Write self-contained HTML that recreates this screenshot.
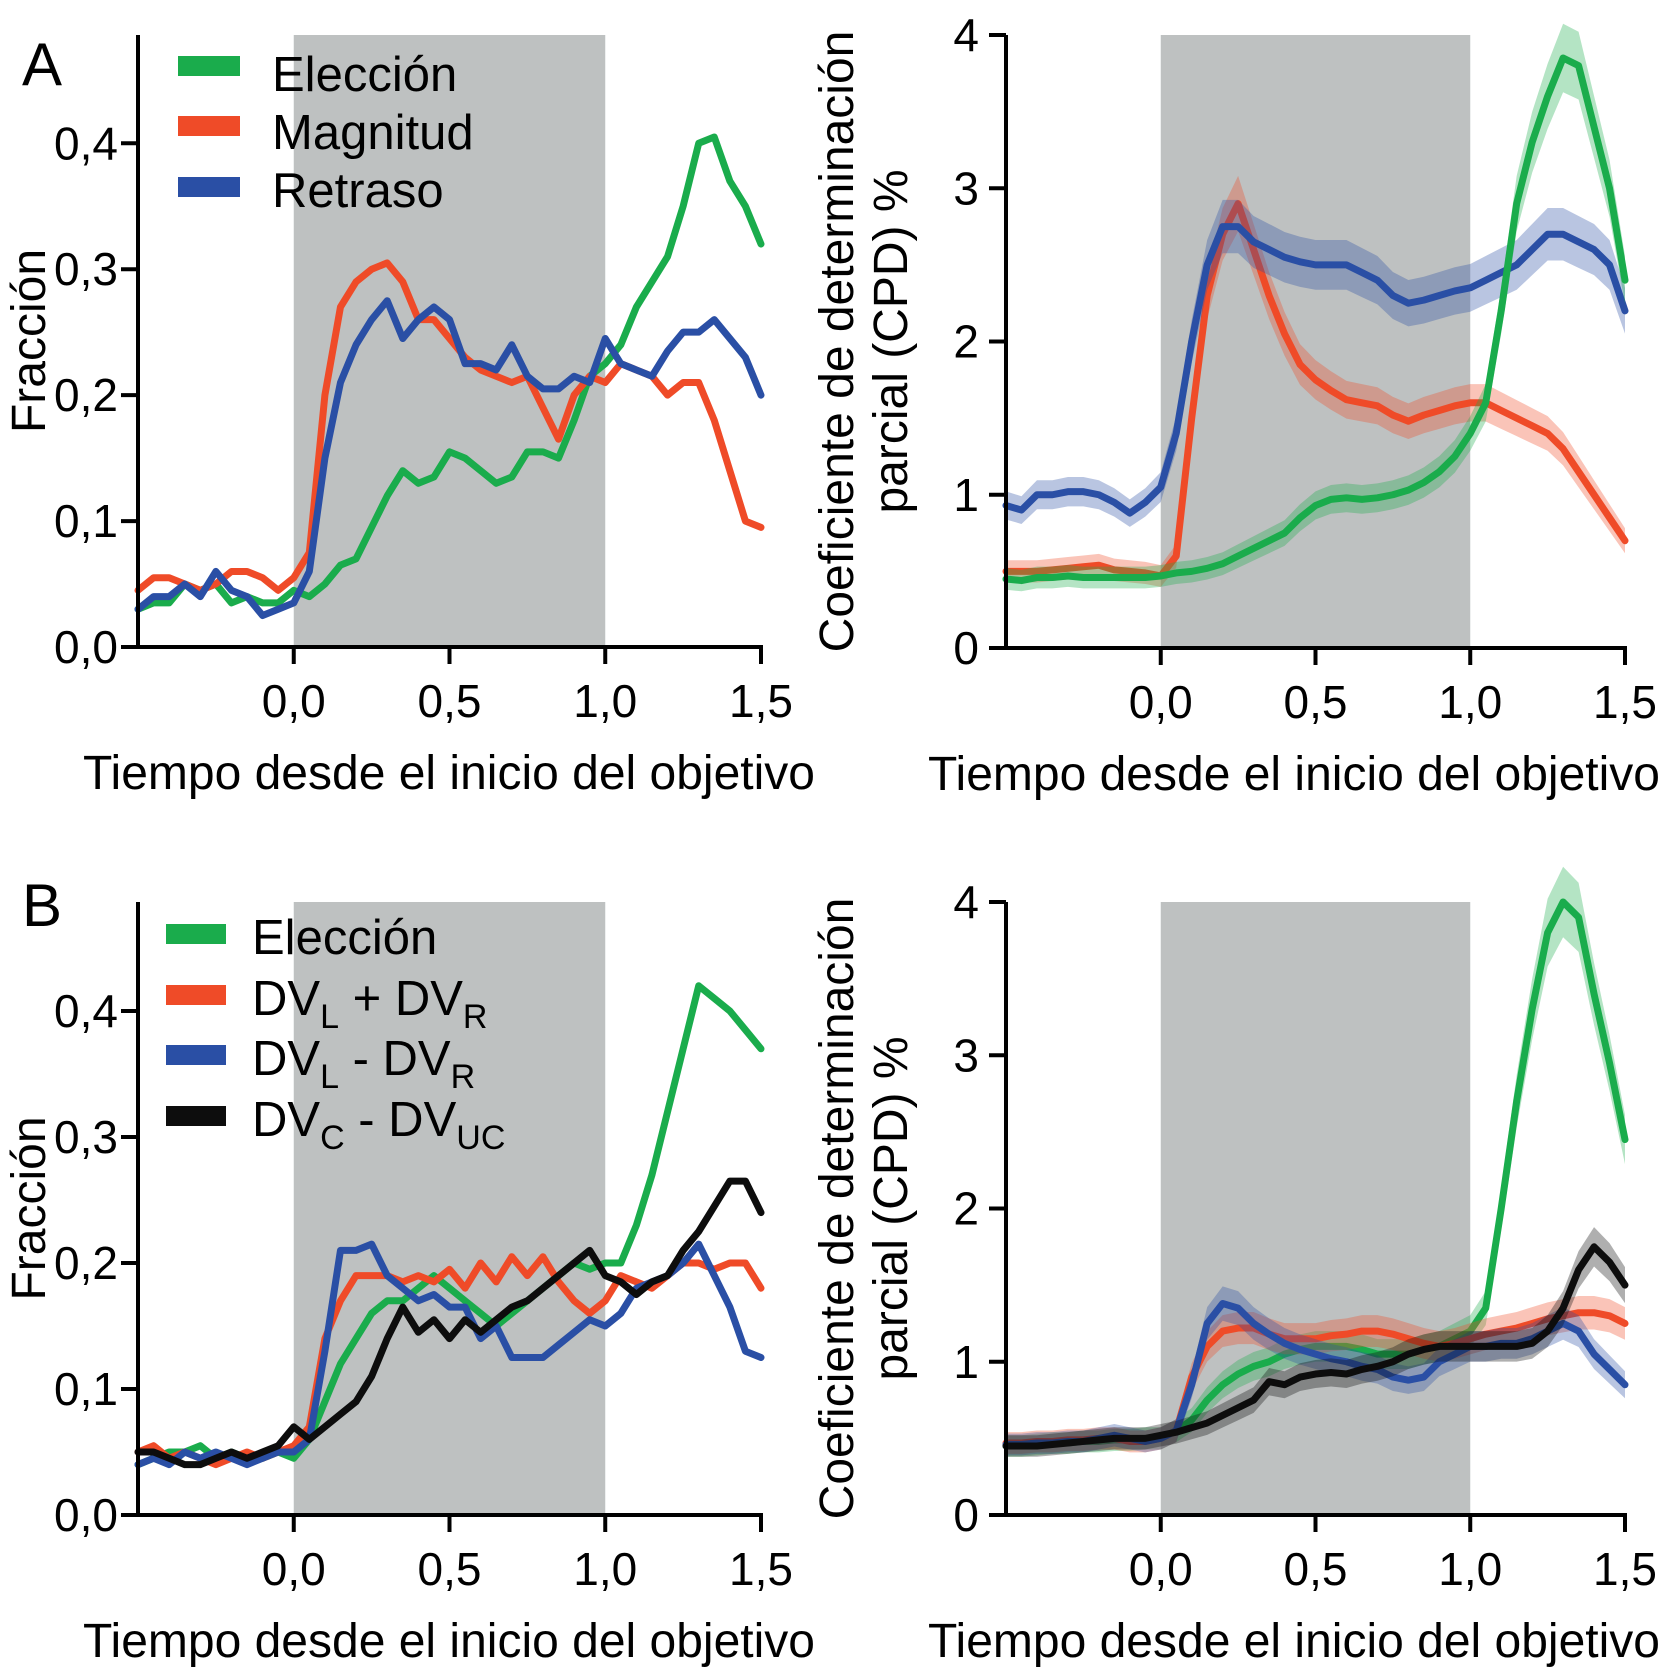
<!DOCTYPE html>
<html><head><meta charset="utf-8"><style>
html,body{margin:0;padding:0;background:#fff}
svg{display:block;font-family:"Liberation Sans",sans-serif}
</style></head><body>
<svg id="fig" width="1666" height="1672" viewBox="0 0 1666 1672" xmlns="http://www.w3.org/2000/svg"></svg>
<script>
const times=[-0.5,-0.45,-0.4,-0.35,-0.3,-0.25,-0.2,-0.15,-0.1,-0.05,0,0.05,0.1,0.15,0.2,0.25,0.3,0.35,0.4,0.45,0.5,0.55,0.6,0.65,0.7,0.75,0.8,0.85,0.9,0.95,1.0,1.05,1.1,1.15,1.2,1.25,1.3,1.35,1.4,1.45,1.5];
const xTickValues=[0,0.5,1.0,1.5];
const xTickLabels=["0,0","0,5","1,0","1,5"];
const fracTickValues=[0,0.1,0.2,0.3,0.4];
const fracTickLabels=["0,0","0,1","0,2","0,3","0,4"];
const cpdTickValues=[0,1,2,3,4];
const cpdTickLabels=["0","1","2","3","4"];
const legendA=["Elección","Magnitud","Retraso"];

const aFracEleccion=[0.03,0.035,0.035,0.05,0.045,0.05,0.035,0.04,0.035,0.035,0.045,0.04,0.05,0.065,0.07,0.095,0.12,0.14,0.13,0.135,0.155,0.15,0.14,0.13,0.135,0.155,0.155,0.15,0.18,0.215,0.225,0.24,0.27,0.29,0.31,0.35,0.4,0.405,0.37,0.35,0.32];
const aFracMagnitud=[0.045,0.055,0.055,0.05,0.045,0.05,0.06,0.06,0.055,0.045,0.055,0.075,0.2,0.27,0.29,0.3,0.305,0.29,0.26,0.26,0.245,0.23,0.22,0.215,0.21,0.215,0.19,0.165,0.2,0.215,0.21,0.225,0.22,0.215,0.2,0.21,0.21,0.18,0.14,0.1,0.095];
const aFracRetraso=[0.03,0.04,0.04,0.05,0.04,0.06,0.045,0.04,0.025,0.03,0.035,0.06,0.15,0.21,0.24,0.26,0.275,0.245,0.26,0.27,0.26,0.225,0.225,0.22,0.24,0.215,0.205,0.205,0.215,0.21,0.245,0.225,0.22,0.215,0.235,0.25,0.25,0.26,0.245,0.23,0.2];

const aCpdEleccion=[0.45,0.44,0.46,0.46,0.47,0.46,0.46,0.46,0.46,0.46,0.47,0.49,0.5,0.52,0.55,0.6,0.65,0.7,0.75,0.85,0.93,0.97,0.98,0.97,0.98,1.0,1.03,1.08,1.15,1.25,1.4,1.6,2.2,2.9,3.3,3.6,3.85,3.8,3.4,3.0,2.4];
const aCpdMagnitud=[0.5,0.5,0.5,0.51,0.52,0.53,0.54,0.51,0.5,0.49,0.47,0.6,1.5,2.3,2.7,2.9,2.6,2.3,2.05,1.85,1.75,1.68,1.62,1.6,1.58,1.52,1.48,1.52,1.55,1.58,1.6,1.6,1.55,1.5,1.45,1.4,1.3,1.15,1.0,0.85,0.7];
const aCpdRetraso=[0.93,0.9,1.0,1.0,1.02,1.02,1.0,0.95,0.88,0.95,1.05,1.4,2.0,2.5,2.75,2.75,2.65,2.6,2.55,2.52,2.5,2.5,2.5,2.45,2.4,2.3,2.25,2.27,2.3,2.33,2.35,2.4,2.45,2.5,2.6,2.7,2.7,2.65,2.6,2.5,2.2];

const bFracEleccion=[0.04,0.045,0.05,0.05,0.055,0.045,0.05,0.045,0.045,0.05,0.045,0.06,0.09,0.12,0.14,0.16,0.17,0.17,0.18,0.19,0.18,0.17,0.16,0.15,0.16,0.17,0.18,0.19,0.2,0.195,0.2,0.2,0.23,0.27,0.32,0.37,0.42,0.41,0.4,0.385,0.37];
const bFracSuma=[0.05,0.055,0.045,0.05,0.045,0.04,0.045,0.05,0.045,0.05,0.055,0.07,0.14,0.17,0.19,0.19,0.19,0.185,0.19,0.185,0.195,0.18,0.2,0.185,0.205,0.19,0.205,0.185,0.17,0.16,0.17,0.19,0.185,0.18,0.19,0.2,0.2,0.195,0.2,0.2,0.18];
const bFracResta=[0.04,0.045,0.04,0.05,0.045,0.05,0.045,0.04,0.045,0.05,0.05,0.06,0.13,0.21,0.21,0.215,0.19,0.18,0.17,0.175,0.165,0.165,0.14,0.15,0.125,0.125,0.125,0.135,0.145,0.155,0.15,0.16,0.18,0.185,0.19,0.2,0.215,0.19,0.165,0.13,0.125];
const bFracCUC=[0.05,0.05,0.045,0.04,0.04,0.045,0.05,0.045,0.05,0.055,0.07,0.06,0.07,0.08,0.09,0.11,0.14,0.165,0.145,0.155,0.14,0.155,0.145,0.155,0.165,0.17,0.18,0.19,0.2,0.21,0.19,0.185,0.175,0.185,0.19,0.21,0.225,0.245,0.265,0.265,0.24];

const bCpdEleccion=[0.45,0.45,0.46,0.47,0.47,0.48,0.48,0.49,0.49,0.5,0.5,0.55,0.62,0.75,0.85,0.92,0.97,1.0,1.05,1.08,1.1,1.1,1.1,1.08,1.05,1.05,1.05,1.08,1.1,1.15,1.2,1.35,2.0,2.7,3.3,3.8,4.0,3.9,3.4,2.95,2.45];
const bCpdSuma=[0.47,0.47,0.48,0.48,0.49,0.49,0.5,0.5,0.48,0.48,0.5,0.55,0.9,1.1,1.2,1.22,1.22,1.18,1.15,1.15,1.15,1.17,1.18,1.2,1.2,1.18,1.15,1.12,1.1,1.12,1.15,1.18,1.2,1.22,1.25,1.28,1.3,1.32,1.32,1.3,1.25];
const bCpdResta=[0.46,0.46,0.47,0.47,0.48,0.48,0.5,0.52,0.5,0.48,0.5,0.55,0.85,1.25,1.38,1.35,1.25,1.18,1.12,1.08,1.05,1.02,1.0,0.97,0.95,0.9,0.88,0.9,1.0,1.05,1.1,1.1,1.12,1.12,1.15,1.2,1.25,1.2,1.05,0.95,0.85];
const bCpdCUC=[0.45,0.45,0.45,0.46,0.47,0.48,0.49,0.5,0.5,0.5,0.52,0.54,0.57,0.6,0.65,0.7,0.75,0.87,0.85,0.9,0.92,0.93,0.92,0.95,0.97,1.0,1.05,1.08,1.1,1.1,1.1,1.1,1.1,1.1,1.12,1.2,1.35,1.6,1.75,1.65,1.5];

const GREEN="#1aac4c",RED="#ef4b28",BLUE="#2a4fa5",BLACK="#0d0d0d";
const NS="http://www.w3.org/2000/svg";
const svg=document.getElementById('fig');
function mk(tag,attrs,parent,text){const e=document.createElementNS(NS,tag);for(const k in attrs)e.setAttribute(k,attrs[k]);if(text!==undefined)e.textContent=text;(parent||svg).appendChild(e);return e;}

function panel(o){
  const g=mk('g',{});
  
  
  const xs=t=>o.x0+(t-(-0.5))*o.xUnit;
  const ys=v=>o.yBase-(v/o.yMax)*(o.yBase-o.yTop);
  const sh=mk('rect',{x:xs(0),y:o.yTop,width:xs(1)-xs(0),height:o.yBase-o.yTop,fill:'#bec1c1'},g);
  
  
  o.series.forEach(s=>{
    if(o.band){
      let up=times.map((t,i)=>xs(t)+','+ys(s.v[i]+0.05+0.045*s.v[i]));
      let dn=times.map((t,i)=>xs(t)+','+ys(Math.max(0,s.v[i]-0.05-0.045*s.v[i]))).reverse();
      const b=mk('polygon',{points:up.concat(dn).join(' '),fill:s.c,opacity:0.33},g);
      
      
    }
    const l=mk('polyline',{points:times.map((t,i)=>xs(t)+','+ys(s.v[i])).join(' '),fill:'none',stroke:s.c,'stroke-width':7,'stroke-linejoin':'round','stroke-linecap':'round'},g);
    
    
  });
  const ya=mk('line',{x1:o.x0,y1:o.yTop,x2:o.x0,y2:o.yBase+2,stroke:'#000','stroke-width':4},g);
  
  
  const xa=mk('line',{x1:o.x0-2,y1:o.yBase,x2:xs(1.5)+2,y2:o.yBase,stroke:'#000','stroke-width':4},g);
  
  
  o.yTicks.forEach((v,i)=>{
    mk('line',{x1:o.x0-17,y1:ys(v),x2:o.x0,y2:ys(v),stroke:'#000','stroke-width':4},g);
    const t=mk('text',{x:o.x0-o.lblOff,y:ys(v)+16,'text-anchor':'end','font-size':46},g,o.yLabels[i]);
    
    
  });
  xTickValues.forEach((v,i)=>{
    mk('line',{x1:xs(v),y1:o.yBase,x2:xs(v),y2:o.yBase+17,stroke:'#000','stroke-width':4},g);
    const t=mk('text',{x:xs(v),y:o.yBase+70,'text-anchor':'middle','font-size':46},g,xTickLabels[i]);
    
    
  });
  const xt=mk('text',{x:o.xTitleX,y:o.yBase+142,'text-anchor':'middle','font-size':48},g,'Tiempo desde el inicio del objetivo');
  
  
  const cy=(o.yTop+o.yBase)/2;
  if(o.band){
    const t1=mk('text',{x:0,y:0,transform:`translate(${o.x0-153},${cy}) rotate(-90)`,'text-anchor':'middle','font-size':48},g,'Coeficiente de determinación');
    
    
    const t2=mk('text',{x:0,y:0,transform:`translate(${o.x0-99},${cy}) rotate(-90)`,'text-anchor':'middle','font-size':48},g,'parcial (CPD) %');
    
    
  } else {
    const t=mk('text',{x:0,y:0,transform:`translate(45,${cy}) rotate(-90)`,'text-anchor':'middle','font-size':48},g,'Fracción');
    
    
  }
}

panel({name:'panel-a-fraction',x0:138,xUnit:311.5,yTop:35,yBase:647,yMax:0.486,yTicks:fracTickValues,yLabels:fracTickLabels,xTitleX:449,band:false,lblOff:20,
  series:[{n:'eleccion',c:GREEN,v:aFracEleccion},{n:'magnitud',c:RED,v:aFracMagnitud},{n:'retraso',c:BLUE,v:aFracRetraso}]});
panel({name:'panel-a-cpd',x0:1006,xUnit:309.5,yTop:35,yBase:648,yMax:4,yTicks:cpdTickValues,yLabels:cpdTickLabels,xTitleX:1294,band:true,lblOff:27,
  series:[{n:'magnitud',c:RED,v:aCpdMagnitud},{n:'retraso',c:BLUE,v:aCpdRetraso},{n:'eleccion',c:GREEN,v:aCpdEleccion}]});
panel({name:'panel-b-fraction',x0:138,xUnit:311.5,yTop:902,yBase:1515,yMax:0.4865,yTicks:fracTickValues,yLabels:fracTickLabels,xTitleX:449,band:false,lblOff:20,
  series:[{n:'eleccion',c:GREEN,v:bFracEleccion},{n:'dvl-plus-dvr',c:RED,v:bFracSuma},{n:'dvl-minus-dvr',c:BLUE,v:bFracResta},{n:'dvc-minus-dvuc',c:BLACK,v:bFracCUC}]});
panel({name:'panel-b-cpd',x0:1006,xUnit:309.5,yTop:902,yBase:1515,yMax:4,yTicks:cpdTickValues,yLabels:cpdTickLabels,xTitleX:1294,band:true,lblOff:27,
  series:[{n:'eleccion',c:GREEN,v:bCpdEleccion},{n:'dvl-plus-dvr',c:RED,v:bCpdSuma},{n:'dvl-minus-dvr',c:BLUE,v:bCpdResta},{n:'dvc-minus-dvuc',c:BLACK,v:bCpdCUC}]});
</script>
<svg width="1666" height="1672" style="position:absolute;left:0;top:0" xmlns="http://www.w3.org/2000/svg">
  <g font-family="Liberation Sans, sans-serif">
    <text x="22" y="85" font-size="60">A</text>
    <text x="22" y="926" font-size="60">B</text>
    <g font-size="49">
      <rect x="178" y="56" width="62" height="20" fill="#1aac4c"/>
      <text x="272" y="91">Elección</text>
      <rect x="178" y="116" width="62" height="20" fill="#ef4b28"/>
      <text x="272" y="149">Magnitud</text>
      <rect x="178" y="177" width="62" height="20" fill="#2a4fa5"/>
      <text x="272" y="207">Retraso</text>
    </g>
    <g font-size="49">
      <rect x="166" y="924" width="60" height="20" fill="#1aac4c"/>
      <text x="252" y="954">Elección</text>
      <rect x="166" y="985" width="60" height="20" fill="#ef4b28"/>
      <text x="252" y="1015">DV<tspan font-size="34" dy="13">L</tspan><tspan dy="-13"> + DV</tspan><tspan font-size="34" dy="13">R</tspan></text>
      <rect x="166" y="1045" width="60" height="20" fill="#2a4fa5"/>
      <text x="252" y="1075">DV<tspan font-size="34" dy="13">L</tspan><tspan dy="-13"> - DV</tspan><tspan font-size="34" dy="13">R</tspan></text>
      <rect x="166" y="1106" width="60" height="20" fill="#0d0d0d"/>
      <text x="252" y="1136">DV<tspan font-size="34" dy="13">C</tspan><tspan dy="-13"> - DV</tspan><tspan font-size="34" dy="13">UC</tspan></text>
    </g>
  </g>
</svg>
</body></html>
